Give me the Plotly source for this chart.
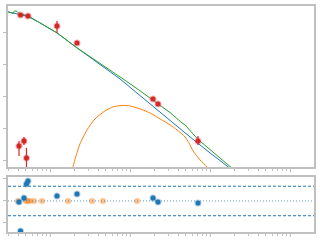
import plotly.graph_objects as go

# ---- data ----
obs_x = [0.410, 0.428, 0.473, 0.508, 0.531, 1.223, 2.175, 19.39, 22.39, 70.79]
obs_y = [2.94, 36520, 4.217, 1.241, 33980, 16550, 4870, 86.6, 60.4, 4.217]
obs_err_plus = [1.28, 4100, 1.40, 1.31, 3800, 7160, 600, 10, 7, 1.82]
obs_err_minus = [1.51, 3700, 1.06, 1.20, 3400, 6550, 550, 9, 6, 1.06]

blue_x = [0.2985, 0.422, 0.531, 0.750, 1.223, 2.175, 4.217, 5.623, 7.499, 10.59,
          17.78, 23.71, 31.62, 56.23, 100, 172.9, 237.1]
blue_y = [45320, 37870, 32770, 20540, 10000, 3398, 1037, 649, 365.2, 177.8,
          60.4, 33.98, 19.11, 5.623, 1.778, 0.649, 0.340]

orange_x = [1.830, 1.939, 2.113, 2.371, 2.901, 3.652, 4.870, 6.131, 7.943, 10.0,
            13.34, 17.78, 23.71, 31.62, 38.68, 48.70, 54.64, 61.31, 74.99, 91.73, 105.9]
orange_y = [0.255, 0.649, 1.433, 3.398, 9.31, 20.54, 36.52, 48.70, 54.2, 52.3,
            42.17, 31.62, 20.54, 13.34, 9.31, 5.623, 3.652, 2.054, 1.075, 0.649, 0.422]

green_x = [0.2985, 0.345, 0.360, 0.387, 0.410, 0.531, 0.750, 1.223, 2.175, 4.217,
           5.623, 7.499, 12.23, 17.78, 23.71, 31.62, 44.67, 48.70, 70.79, 115.5, 177.8, 237.1]
green_y = [45320, 40640, 48700, 46960, 40640, 33980, 20540, 10000, 3398, 1075,
           673, 421.7, 181.7, 93.1, 52.3, 32.55, 15.40, 13.34, 4.70, 1.655, 0.649, 0.365]

resid_x = obs_x
resid_y = [-0.05, -1.36, 0.14, 0.77, 0.91, 0.23, 0.32, 0.14, -0.05, -0.09]

resid2_x = [0.398, 0.501, 0.531, 0.562, 0.631, 0.794, 1.679, 3.350, 4.597, 12.23]
resid2_y = [0, 0, 0, 0, 0, 0, 0, 0, 0, 0]

band_levels = [0.67, -0.67]
zero_level = [0]

BLUE = "#1f77b4"
ORANGE = "#ff7f0e"
GREEN = "#2ca02c"
RED = "#d62728"
FRAME = "#c0c0c0"

fig = go.Figure()

fig.add_trace(go.Scatter(x=blue_x, y=blue_y, mode="lines",
                         line=dict(color=BLUE, width=1), xaxis="x", yaxis="y"))
fig.add_trace(go.Scatter(x=orange_x, y=orange_y, mode="lines", line_shape="spline",
                         line=dict(color=ORANGE, width=1, smoothing=0.6),
                         xaxis="x", yaxis="y"))
fig.add_trace(go.Scatter(x=green_x, y=green_y, mode="lines",
                         line=dict(color=GREEN, width=1), xaxis="x", yaxis="y"))
fig.add_trace(go.Scatter(x=obs_x, y=obs_y, mode="markers",
                         marker=dict(color=RED, size=5,
                                     line=dict(color="rgba(214,39,40,0.35)", width=2)),
                         error_y=dict(type="data", symmetric=False, array=obs_err_plus,
                                      arrayminus=obs_err_minus, color=RED,
                                      thickness=1.2, width=0),
                         xaxis="x", yaxis="y"))

for lv in band_levels:
    fig.add_shape(type="line", xref="x2 domain", yref="y2", x0=0, x1=1, y0=lv, y1=lv,
                  line=dict(color=BLUE, width=1, dash="3px,2px"))
for lv in zero_level:
    fig.add_shape(type="line", xref="x2 domain", yref="y2", x0=0, x1=1, y0=lv, y1=lv,
                  line=dict(color="rgba(31,119,180,0.75)", width=1, dash="1px,2px"))

fig.add_trace(go.Scatter(x=resid2_x, y=resid2_y, mode="markers",
                         marker=dict(color="rgba(255,127,14,0.45)", size=5,
                                     line=dict(color="rgba(255,127,14,0.25)", width=1.5)),
                         xaxis="x2", yaxis="y2"))
fig.add_trace(go.Scatter(x=resid_x, y=resid_y, mode="markers",
                         marker=dict(color=BLUE, size=5,
                                     line=dict(color="rgba(31,119,180,0.35)", width=2)),
                         xaxis="x2", yaxis="y2"))

xdom = [8 / 320, 314 / 320]
common_x = dict(type="log", range=[-0.525, 3.3], showgrid=False, zeroline=False,
                showline=True, linecolor=FRAME, linewidth=2, mirror=True,
                ticks="outside", ticklen=3, tickcolor=FRAME, tickwidth=1, dtick=1,
                showticklabels=False,
                minor=dict(ticks="outside", ticklen=2, tickcolor=FRAME, dtick="D1",
                           showgrid=False))

fig.update_layout(
    width=320, height=240, margin=dict(l=0, r=0, t=0, b=0),
    paper_bgcolor="white", plot_bgcolor="white", showlegend=False,
    xaxis=dict(domain=xdom, anchor="y", **common_x),
    yaxis=dict(domain=[73 / 240, 234 / 240], type="log", range=[-0.19, 4.84],
               showgrid=False, zeroline=False, showline=True, linecolor=FRAME,
               linewidth=2, mirror=True, ticks="outside", ticklen=3, tickcolor=FRAME,
               dtick=1, showticklabels=False, anchor="x"),
    xaxis2=dict(domain=xdom, anchor="y2", matches="x", **common_x),
    yaxis2=dict(domain=[8 / 240, 63 / 240], range=[-1.41, 1.09], showgrid=False,
                zeroline=False, showline=True, linecolor=FRAME, linewidth=2,
                mirror=True, ticks="outside", ticklen=3, tickcolor=FRAME, dtick=1,
                showticklabels=False, anchor="x2"),
)

fig.write_html("out.html")
